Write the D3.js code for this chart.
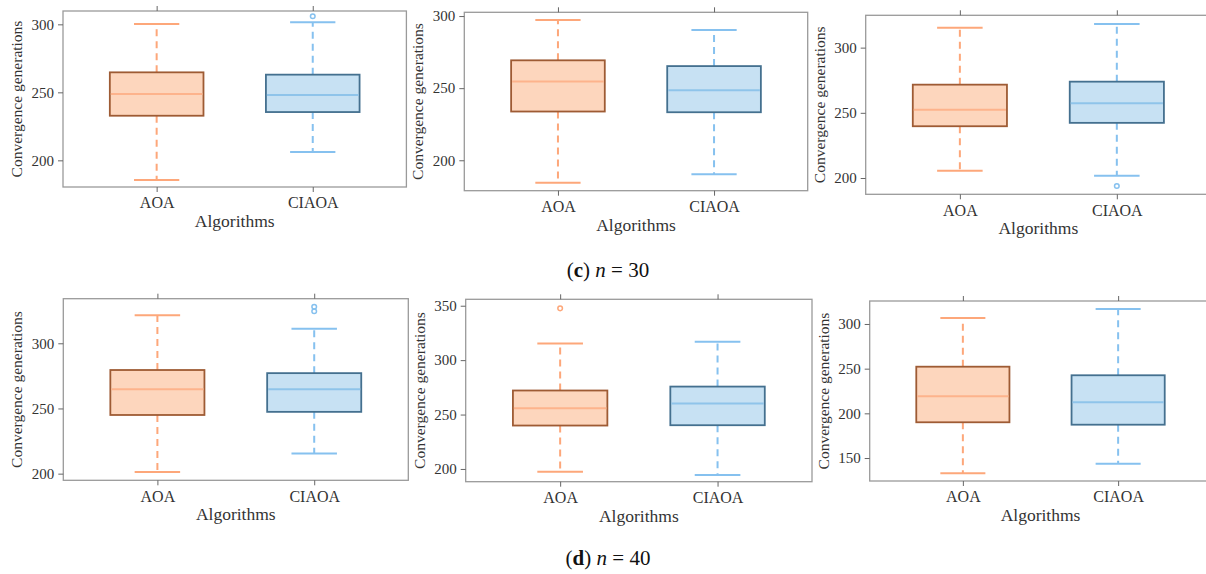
<!DOCTYPE html>
<html>
<head>
<meta charset="utf-8">
<script src="https://cdn.jsdelivr.net/npm/d3@7"></script>
<style>
body{margin:0;background:#fff}
svg{display:block}
</style>
</head>
<body>
<svg id="fig" width="1206" height="574"></svg>
<script>
var algorithms = ["AOA", "CIAOA"];

// [lower whisker, q1, median, q3, upper whisker] for each of the 6 panels
var aoaStats = [
  [185.5, 232.8, 248.8, 264.7, 300.2],
  [184.4, 233.8, 254.6, 269.3, 297.2],
  [205.6, 239.7, 252.3, 271.6, 315.3],
  [201.3, 245.0, 264.7, 279.5, 321.5],
  [197.5, 239.9, 255.8, 272.1, 315.3],
  [133.0, 190.0, 219.1, 252.2, 306.7]
];
var ciaoaStats = [
  [206.1, 235.5, 248.0, 263.0, 301.5],
  [190.3, 233.3, 248.6, 265.3, 290.3],
  [201.8, 242.3, 257.4, 273.9, 318.2],
  [215.4, 247.4, 264.7, 277.1, 311.2],
  [194.5, 240.2, 260.1, 275.7, 316.8],
  [143.6, 187.3, 212.5, 242.6, 316.8]
];
var aoaOutliers = [[], [], [], [], [347.6], []];
var ciaoaOutliers = [[305.9], [], [193.9], [328.0, 324.6], [], []];

var yDomains = [[180.4, 309.8], [178.9, 302.6], [187.5, 324.8], [194.9, 334.2], [188.3, 355.9], [124.3, 325.7]];
var yTicks = [[200, 250, 300], [200, 250, 300], [200, 250, 300], [200, 250, 300], [200, 250, 300, 350], [150, 200, 250, 300]];

var captionLetters = ["c", "d"];
var captionN = [30, 40];

// panel frames: left, top, right, bottom
var frames = [
  [63, 11, 406.4, 187],
  [464.3, 12.3, 807.7, 190.7],
  [865.7, 15.3, 1211, 194.3],
  [63.3, 298.7, 408.3, 480.3],
  [465.7, 299.3, 812, 481.7],
  [869.7, 301, 1211.3, 481]
];
var captionY = [277, 565];

var colors = {
  AOA: {fill: "#fdd6bd", edge: "#9e5b34", median: "#fdb38c", whisker: "#fda77a"},
  CIAOA: {fill: "#c7e1f3", edge: "#44708f", median: "#8fc4ea", whisker: "#86c1ef"}
};

var FONT = "'Liberation Serif', 'Times New Roman'";

var svg = d3.select("#fig");

var drawPanel = function(p)
{
  var f = frames[p];
  var x = d3.scaleLinear().domain([-0.6, 1.6]).range([f[0], f[2]]);
  var y = d3.scaleLinear().domain(yDomains[p]).range([f[3], f[1]]);
  var g = svg.append("g");

  var rows = [
    {name: "AOA", s: aoaStats[p], out: aoaOutliers[p]},
    {name: "CIAOA", s: ciaoaStats[p], out: ciaoaOutliers[p]}
  ];

  var bw = x(0.3) - x(0);
  var cw = x(0.145) - x(0);

  rows.forEach(function(d, i)
  {
    var c = colors[d.name];
    var cx = x(i);
    // whiskers
    g.append("line").attr("x1", cx).attr("x2", cx).attr("y1", y(d.s[1])).attr("y2", y(d.s[0]))
      .attr("stroke", c.whisker).attr("stroke-width", 2).attr("stroke-dasharray", "7,5");
    g.append("line").attr("x1", cx).attr("x2", cx).attr("y1", y(d.s[3])).attr("y2", y(d.s[4]))
      .attr("stroke", c.whisker).attr("stroke-width", 2).attr("stroke-dasharray", "7,5");
    [d.s[0], d.s[4]].forEach(function(v)
    {
      g.append("line").attr("x1", cx - cw).attr("x2", cx + cw).attr("y1", y(v)).attr("y2", y(v))
        .attr("stroke", c.whisker).attr("stroke-width", 2);
    });
    // box
    g.append("rect").attr("x", cx - bw).attr("width", 2 * bw)
      .attr("y", y(d.s[3])).attr("height", y(d.s[1]) - y(d.s[3]))
      .attr("fill", c.fill).attr("stroke", c.edge).attr("stroke-width", 1.8);
    g.append("line").attr("x1", cx - bw + 1).attr("x2", cx + bw - 1).attr("y1", y(d.s[2])).attr("y2", y(d.s[2]))
      .attr("stroke", c.median).attr("stroke-width", 2);
    // outliers
    g.selectAll(null).data(d.out).enter().append("circle")
      .attr("cx", cx).attr("cy", function(v){return y(v);}).attr("r", 2.3)
      .attr("fill", "none").attr("stroke", c.whisker).attr("stroke-width", 1.5);
  });

  // frame
  g.append("rect").attr("x", f[0]).attr("y", f[1]).attr("width", f[2] - f[0]).attr("height", f[3] - f[1])
    .attr("fill", "none").attr("stroke", "#9a9a9a").attr("stroke-width", 1.3);

  // axes
  var ya = g.append("g").attr("transform", "translate(" + f[0] + ",0)")
    .call(d3.axisLeft(y).tickValues(yTicks[p]).tickSize(5).tickPadding(4));
  var xb = g.append("g").attr("transform", "translate(0," + f[3] + ")")
    .call(d3.axisBottom(x).tickValues([0, 1]).tickSize(5).tickPadding(5)
      .tickFormat(function(d){return algorithms[d];}));
  var xt = g.append("g").attr("transform", "translate(0," + f[1] + ")")
    .call(d3.axisTop(x).tickValues([0, 1]).tickSize(5).tickFormat(""));
  [ya, xb, xt].forEach(function(a)
  {
    a.select(".domain").remove();
    a.selectAll("line").attr("stroke", "#666").attr("stroke-width", 1);
    a.selectAll("text").style("font-family", FONT).style("font-size", "15px").style("fill", "#333");
  });
  xb.selectAll("text").style("font-size", "16px");

  g.append("text").attr("x", x(0.5)).attr("y", f[3] + 40)
    .attr("text-anchor", "middle")
    .style("font-family", FONT).style("font-size", "17.5px").style("fill", "#333")
    .text("Algorithms");
  g.append("text")
    .attr("transform", "translate(" + (f[0] - 41) + "," + ((f[1] + f[3]) / 2) + ") rotate(-90)")
    .attr("text-anchor", "middle")
    .style("font-family", FONT).style("font-size", "15.5px").style("fill", "#333")
    .text("Convergence generations");
}

for (var p = 0; p < 6; p++) drawPanel(p);

captionLetters.forEach(function(l, i)
{
  var t = svg.append("text").attr("x", 608).attr("y", captionY[i])
    .attr("text-anchor", "middle")
    .style("font-family", FONT).style("font-size", "21px").style("fill", "#111");
  t.append("tspan").text("(");
  t.append("tspan").style("font-weight", "bold").text(l);
  t.append("tspan").text(") ");
  t.append("tspan").style("font-style", "italic").text("n");
  t.append("tspan").text(" = " + captionN[i]);
});
</script>
</body>
</html>
